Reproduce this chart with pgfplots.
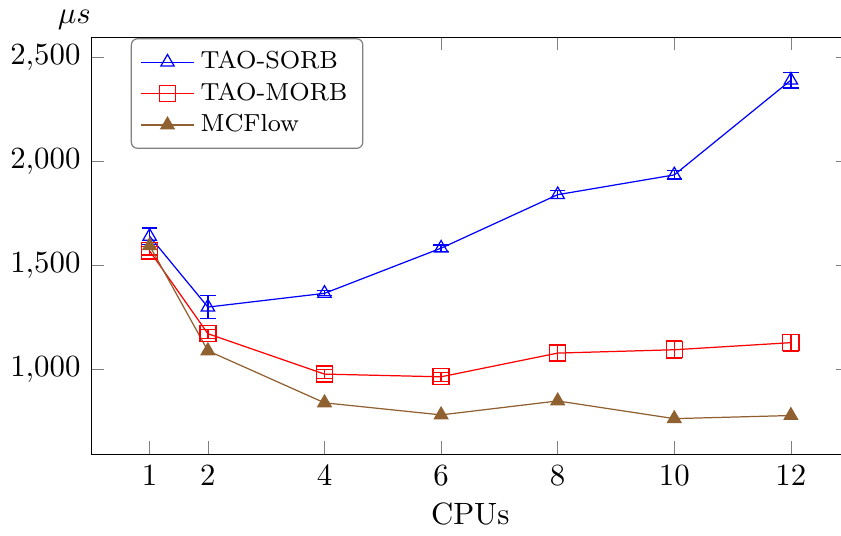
\documentclass[border=0pt]{standalone}
\usepackage{pgfplots}
\pgfplotsset{compat=1.18}
\usepackage{pgfplotstable}
\definecolor{mcbrown}{rgb}{0.5625,0.375,0.1875}

\pgfplotstableread{
x y e
1 1640 40
2 1300 55
4 1366 12
6 1583 15
8 1840 20
10 1935 20
12 2390 38
}\sorb
\pgfplotstableread{
x y e
1 1570 20
2 1172 22
4 978 22
6 965 22
8 1079 40
10 1095 42
12 1129 40
}\morb
\pgfplotstableread{
x y
1 1595
2 1090
4 840
6 782
8 849
10 764
12 779
}\mcflow

\begin{document}
\begin{tikzpicture}
\begin{scope}
\clip (-60pt,-60pt) rectangle (243.3pt,200pt);
\begin{axis}[
  name=ax,
  scale only axis,
  width=246pt, height=135.4pt,
  xmin=0, xmax=13,
  ymin=592, ymax=2596,
  xtick={1,2,4,6,8,10,12},
  ytick={1000,1500,2000,2500},
  xlabel={CPUs},
  xlabel style={yshift=1pt},
  ylabel={$\mu s$},
  ylabel style={rotate=-90, at={(axis description cs:0,1)}, anchor=south, xshift=-5.5pt, yshift=-1pt},
  legend style={at={(axis description cs:0.052,0.998)}, anchor=north west, rounded corners=2pt, draw=gray, font=\footnotesize, row sep=-1pt},
  legend cell align=left,
]
\addplot[blue, mark=triangle, mark size=2.5pt, error bars/.cd, y dir=both, y explicit]
  table[x=x, y=y, y error=e] {\sorb};
\addlegendentry{TAO-SORB}
\addplot[red, mark=square, mark size=2.6pt, mark options={draw=red}, error bars/.cd, y dir=both, y explicit, error bar style={red}]
  table[x=x, y=y, y error=e] {\morb};
\addlegendentry{TAO-MORB}
\addplot[mcbrown, mark=triangle*, mark size=2.5pt, mark options={fill=mcbrown}]
  table[x=x, y=y] {\mcflow};
\addlegendentry{MCFlow}
\coordinate (rr) at (axis cs:12.86,600);
\end{axis}
\end{scope}
\pgfresetboundingbox
\path[use as bounding box] (ax.outer south west) rectangle (rr |- ax.outer north east);
\end{tikzpicture}
\end{document}
